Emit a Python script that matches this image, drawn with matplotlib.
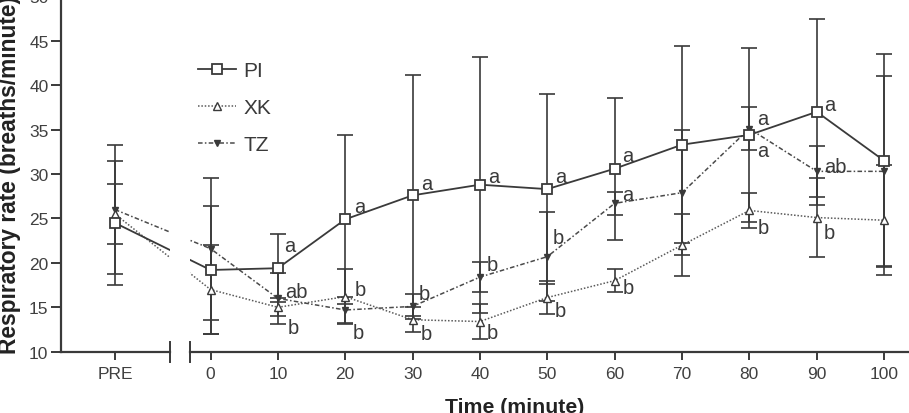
import matplotlib
matplotlib.use("Agg")
import matplotlib.pyplot as plt
import matplotlib.transforms as mtransforms
from matplotlib.patches import Rectangle
from matplotlib.lines import Line2D

plt.rcParams['font.family'] = ['Liberation Sans', 'DejaVu Sans']

# ---------------- data ----------------
time_labels = ['PRE', '0', '10', '20', '30', '40', '50', '60', '70', '80', '90', '100']
times = [0, 10, 20, 30, 40, 50, 60, 70, 80, 90, 100]

pi_mean = [24.5, 19.2, 19.4, 24.9, 27.6, 28.8, 28.3, 30.6, 33.3, 34.4, 37.0, 31.5]
pi_sd   = [7.0, 7.2, 3.8, 9.5, 13.6, 14.4, 10.7, 8.0, 11.1, 9.8, 10.5, 12.0]

xk_mean = [25.5, 17.0, 15.0, 16.2, 13.6, 13.4, 16.1, 18.0, 22.0, 25.9, 25.1, 24.8]
xk_sd   = [3.4, 5.0, 1.0, 3.1, 1.4, 2.0, 1.9, 1.3, 3.5, 2.0, 4.4, 6.2]

tz_mean = [26.0, 21.6, 16.0, 14.7, 15.1, 18.4, 20.7, 26.7, 27.9, 35.1, 30.3, 30.3]
tz_sd   = [7.3, 8.0, 2.9, 1.5, 1.4, 1.7, 5.0, 1.3, 7.0, 2.4, 2.9, 10.7]

# significance letters: (time, value, text)
letters = [
    (11.8, 21.9, 'a'), (12.8, 16.8, 'ab'), (12.3, 12.75, 'b'),
    (22.2, 26.4, 'a'), (22.2, 17.0, 'b'), (22.0, 12.2, 'b'),
    (32.1, 28.95, 'a'), (31.8, 16.6, 'b'), (32.0, 12.1, 'b'),
    (42.0, 29.7, 'a'), (41.8, 19.8, 'b'), (41.8, 12.2, 'b'),
    (52.0, 29.7, 'a'), (51.7, 22.8, 'b'), (52.0, 14.6, 'b'),
    (62.0, 32.1, 'a'), (62.0, 27.75, 'a'), (62.0, 17.2, 'b'),
    (82.0, 36.3, 'a'), (82.0, 32.7, 'a'), (82.0, 24.0, 'b'),
    (91.9, 37.8, 'a'), (92.7, 30.9, 'ab'), (91.8, 23.4, 'b'),
]

# ---------------- layout ----------------
PRE_POS = -14.2
X_LEFT, X_RIGHT = -22.2, 103.7
BREAK_A, BREAK_B = -6.05, -3.08
xs = [PRE_POS] + times

dark = '#3a3a3a'
tz_ls = (0, (3, 1.5, 1, 1.5))
xk_ls = (0, (1, 1.2))

fig = plt.figure(figsize=(9.09, 4.14), dpi=100)
ax = fig.add_axes([61 / 909, 0.148, (909 - 61) / 909, 0.8585])
ax.set_xlim(X_LEFT, X_RIGHT)
ax.set_ylim(10, 50)

# series
ax.plot(xs, tz_mean, color='#4a4a4a', lw=1.1, ls=tz_ls, zorder=2)
ax.plot(xs, xk_mean, color='#5a5a5a', lw=1.1, ls=xk_ls, zorder=2)
ax.plot(xs, pi_mean, color=dark, lw=1.3, ls='-', zorder=3)

eb_kw = dict(fmt='none', ecolor=dark, elinewidth=1.2, capsize=6, capthick=1.2, zorder=3)
ax.errorbar(xs, pi_mean, yerr=pi_sd, **eb_kw)
ax.errorbar(xs, tz_mean, yerr=tz_sd, **eb_kw)
ax.errorbar(xs, xk_mean, yerr=xk_sd, **eb_kw)

ax.plot(xs, tz_mean, ls='none', marker='v', ms=4.5, color=dark, mec=dark, zorder=4)
ax.plot(xs, xk_mean, ls='none', marker='^', ms=5.5, mfc='white', mec=dark, mew=1.0, zorder=4)
ax.plot(xs, pi_mean, ls='none', marker='s', ms=7, mfc='white', mec=dark, mew=1.3, zorder=5)

# break gap
ax.add_patch(Rectangle((BREAK_A, 10.2), BREAK_B - BREAK_A, 40, facecolor='white',
                       edgecolor='none', zorder=6))

# spines
for s in ['top', 'right', 'bottom']:
    ax.spines[s].set_visible(False)
ax.spines['left'].set_linewidth(1.6)
ax.spines['left'].set_color(dark)
trans = mtransforms.blended_transform_factory(ax.transData, ax.transAxes)
ax.plot([X_LEFT, BREAK_A], [0, 0], color=dark, lw=1.6, transform=trans, clip_on=False, zorder=7)
ax.plot([BREAK_B, X_RIGHT + 3], [0, 0], color=dark, lw=1.6, transform=trans, clip_on=False, zorder=7)
for bx in (BREAK_A, BREAK_B):
    ax.plot([bx, bx], [-0.028, 0.028], color=dark, lw=1.4, transform=trans, clip_on=False, zorder=7)

ax.set_xticks(xs)
ax.set_xticklabels(time_labels)
ax.set_yticks(range(10, 51, 5))
ax.tick_params(axis='both', direction='out', colors=dark, labelcolor='#404040',
               labelsize=12.5, width=1.4)
ax.tick_params(axis='y', length=7, pad=2)
ax.tick_params(axis='x', length=6, pad=4)

for tx, ty, t in letters:
    ax.text(tx, ty, t, ha='center', va='center', fontsize=14.5, color=dark, zorder=8)

# legend
handles = [
    Line2D([], [], color=dark, lw=1.3, marker='s', ms=7, mfc='white', mec=dark, mew=1.3),
    Line2D([], [], color='#5a5a5a', lw=1.1, ls=xk_ls, marker='^', ms=5.5, mfc='white', mec=dark),
    Line2D([], [], color='#4a4a4a', lw=1.1, ls=tz_ls, marker='v', ms=4.5, mfc=dark, mec=dark),
]
leg = ax.legend(handles, ['PI', 'XK', 'TZ'], loc='upper left',
                bbox_to_anchor=((190 - 61) / 848, 1 - 57 / 356.6),
                frameon=False, fontsize=15, handlelength=1.8, handletextpad=0.35,
                labelspacing=0.85, borderaxespad=0)
for t in leg.get_texts():
    t.set_color(dark)

fig.text(10 / 909, 1 - 175 / 414, 'Respiratory rate (breaths/minute)', rotation=90,
         ha='center', va='center', fontsize=16.4, fontweight='bold', color='#222222')
fig.text(515 / 909, 1 - 413 / 414, 'Time (minute)', ha='center', va='baseline',
         fontsize=15.3, fontweight='bold', color='#222222')

fig.savefig('out.png', dpi=100)
